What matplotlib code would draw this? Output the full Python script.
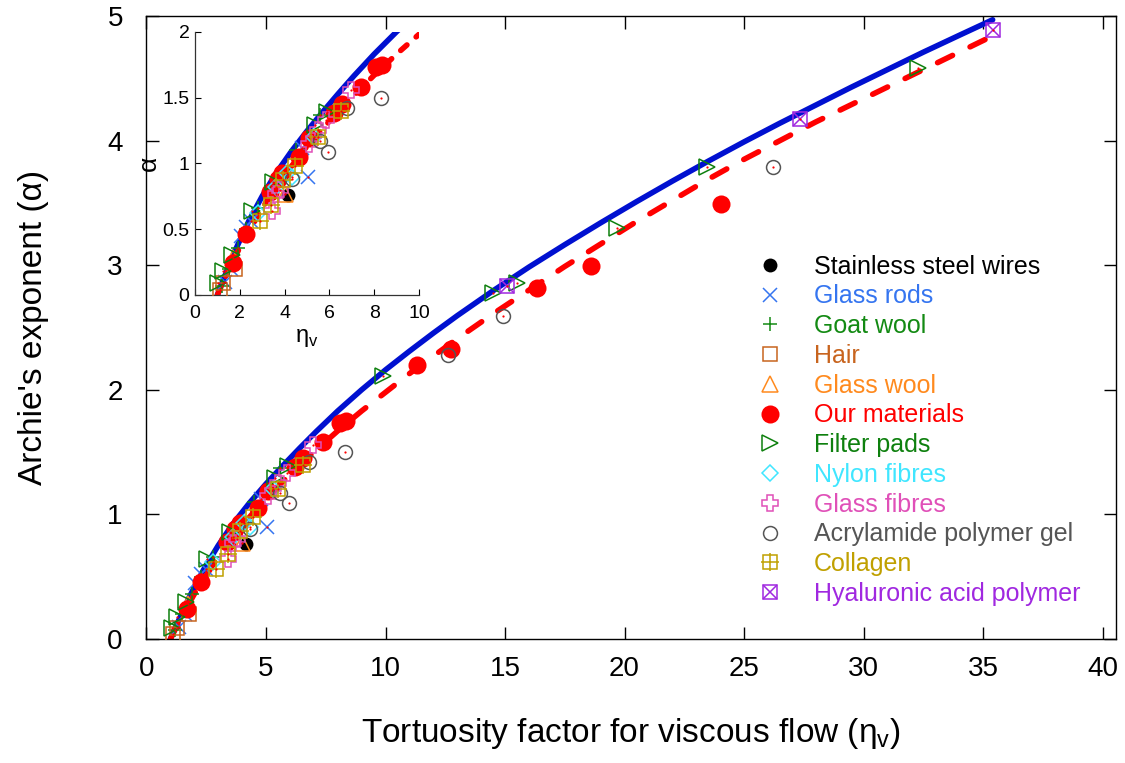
import matplotlib
matplotlib.use("Agg")
import matplotlib.pyplot as plt
from matplotlib.lines import Line2D
from matplotlib.legend_handler import HandlerTuple

plt.rcParams['font.family'] = ['Liberation Sans', 'DejaVu Sans']
plt.rcParams['mathtext.fontset'] = 'custom'
plt.rcParams['mathtext.rm'] = 'Liberation Sans'

# ---- model curves ----
blue_x = [1.0, 1.3, 1.8, 2.4, 3.0, 3.6, 4.3, 5.0, 5.7, 6.4, 7.1, 8.0, 9.0, 10.0, 11.0,
          12.0, 13.0, 14.5, 16.0, 17.5, 19.0, 20.5, 22.0, 23.5, 25.0, 26.5, 28.0, 29.5,
          31.0, 32.5, 34.0, 35.4]
blue_y = [0.0, 0.13, 0.34, 0.56, 0.75, 0.92, 1.09, 1.245, 1.39, 1.53, 1.665, 1.83, 2.00,
          2.16, 2.31, 2.455, 2.595, 2.795, 2.985, 3.165, 3.34, 3.51, 3.675, 3.835, 3.99,
          4.14, 4.285, 4.43, 4.57, 4.71, 4.845, 4.97]
red_x = [1.0, 1.5, 2.0, 3.0, 4.0, 5.0, 6.0, 7.0, 8.0, 9.0, 10.0, 11.0, 12.0, 13.0, 14.5,
         16.0, 17.5, 19.0, 20.5, 22.0, 23.5, 25.0, 26.5, 28.0, 29.5, 31.0, 32.5, 34.0, 35.5]
red_y = [0.0, 0.19, 0.36, 0.66, 0.91, 1.13, 1.32, 1.50, 1.67, 1.83, 1.98, 2.13, 2.27,
         2.41, 2.61, 2.80, 2.99, 3.17, 3.35, 3.52, 3.69, 3.85, 4.00, 4.15, 4.29, 4.43,
         4.57, 4.71, 4.85]

# ---- data series ----
steel_x = [4.15]
steel_y = [0.76]
rods_x = [1.35, 1.6, 2.05, 2.3, 2.5, 4.8, 5.05]
rods_y = [0.10, 0.20, 0.45, 0.52, 0.56, 1.12, 0.90]
goat_x = [1.2, 1.5, 1.9, 2.3, 2.8, 3.4, 4.5, 5.6]
goat_y = [0.07, 0.20, 0.36, 0.50, 0.66, 0.83, 1.10, 1.37]
hair_x = [1.1, 1.27, 1.78]
hair_y = [0.04, 0.09, 0.20]
gwool_x = [1.72, 4.0]
gwool_y = [0.28, 0.77]
ours_x = [1.7, 2.3, 3.35, 3.7, 3.9, 4.65, 5.1, 6.2, 6.55, 7.4, 8.1, 8.35, 11.3, 12.75,
          16.35, 18.6, 24.05]
ours_y = [0.24, 0.46, 0.78, 0.88, 0.93, 1.05, 1.19, 1.38, 1.45, 1.58, 1.73, 1.75, 2.20,
          2.33, 2.82, 2.99, 3.49]
pads_x = [1.05, 1.26, 1.64, 2.55, 3.48, 5.36, 5.9, 9.91, 14.51, 15.49, 19.67, 23.44, 32.29]
pads_y = [0.09, 0.18, 0.30, 0.64, 0.86, 1.29, 1.39, 2.11, 2.78, 2.86, 3.30, 3.79, 4.58]
nylon_x = [2.8, 3.6, 4.1, 4.35, 5.3]
nylon_y = [0.62, 0.82, 0.93, 0.90, 1.20]
gfib_x = [3.42, 3.63, 3.8, 5.1, 5.5, 5.87, 6.98]
gfib_y = [0.64, 0.77, 0.80, 1.15, 1.25, 1.33, 1.56]
acryl_x = [4.33, 5.6, 5.95, 6.8, 8.3, 12.63, 14.92, 26.23]
acryl_y = [0.88, 1.17, 1.09, 1.42, 1.50, 2.28, 2.59, 3.79]
coll_x = [2.9, 3.4, 3.92, 4.45, 5.5, 6.53]
coll_y = [0.56, 0.68, 0.87, 0.98, 1.20, 1.40]
hyal_x = [15.07, 27.34, 35.43]
hyal_y = [2.83, 4.17, 4.89]

main_xticks = [0, 5, 10, 15, 20, 25, 30, 35, 40]
main_yticks = [0, 1, 2, 3, 4, 5]
inset_xticks = [0, 2, 4, 6, 8, 10]
inset_yticks = [0, 0.5, 1, 1.5, 2]
inset_yticklabels = ['0', '0.5', '1', '1.5', '2']

labels = ['Stainless steel wires', 'Glass rods', 'Goat wool', 'Hair', 'Glass wool',
          'Our materials', 'Filter pads', 'Nylon fibres', 'Glass fibres',
          'Acrylamide polymer gel', 'Collagen', 'Hyaluronic acid polymer']
colors = ['#000000', '#3575f0', '#138a13', '#c8641e', '#ff8a1e', '#ff0000',
          '#0e800e', '#40e6ff', '#e050b8', '#555555', '#c0a000', '#a028e0']

C_BLUE = '#0010d0'


def open_style(c, m, ms, mew=1.1):
    return dict(linestyle='none', marker=m, ms=ms, mec=c, mfc='none', mew=mew)


styles = [
    dict(linestyle='none', marker='o', ms=10, mec=colors[0], mfc=colors[0], mew=0),
    open_style(colors[1], 'x', 10),
    open_style(colors[2], '+', 10),
    open_style(colors[3], 's', 10),
    open_style(colors[4], '^', 11),
    dict(linestyle='none', marker='o', ms=13, mec=colors[5], mfc=colors[5], mew=0),
    open_style(colors[6], '>', 11),
    open_style(colors[7], 'D', 8),
    open_style(colors[8], 'P', 11),
    open_style(colors[9], 'o', 10),
    open_style(colors[10], 's', 10),
    open_style(colors[11], 's', 10),
]
extra = {10: open_style(colors[10], '+', 13), 11: open_style(colors[11], 'x', 9.5)}

series = [(steel_x, steel_y), (rods_x, rods_y), (goat_x, goat_y), (hair_x, hair_y),
          (gwool_x, gwool_y), (ours_x, ours_y), (pads_x, pads_y), (nylon_x, nylon_y),
          (gfib_x, gfib_y), (acryl_x, acryl_y), (coll_x, coll_y), (hyal_x, hyal_y)]


def draw(ax, inset=False):
    ax.plot(blue_x, blue_y, color=C_BLUE, lw=4.0, solid_capstyle='round',
            solid_joinstyle='round', zorder=2)
    dashes = (1.5, 2.2) if inset else (3.0, 3.5)
    ax.plot(red_x, red_y, color='#ff0000', lw=4.0, dashes=dashes,
            dash_capstyle='round', zorder=2)
    for i, (xs, ys) in enumerate(series):
        ax.plot(xs, ys, zorder=3, **styles[i])
        if i in extra:
            ax.plot(xs, ys, zorder=3, **extra[i])
        if i not in (0, 5):
            ax.plot(xs, ys, linestyle='none', marker='o', ms=1.6, mfc='#ff0000',
                    mec='#ff0000', mew=0, zorder=4)


fig = plt.figure(figsize=(11.25, 7.63), dpi=100)
ax = fig.add_axes([0.1302, 0.1625, 0.8618, 0.8165])
draw(ax)
ax.set_xlim(0, 40.56)
ax.set_ylim(0, 5)
ax.set_xticks(main_xticks)
ax.set_yticks(main_yticks)
ax.tick_params(direction='in', length=9, width=1, top=True, right=True,
               labelsize=20, colors='black')
ax.tick_params(axis='x', pad=12)
ax.tick_params(axis='y', pad=17)
for s in ax.spines.values():
    s.set_linewidth(1.0)
ax.set_xlabel('Tortuosity factor for viscous flow (η$_\\mathregular{v}$)', fontsize=24,
              labelpad=25)
ax.set_ylabel("Archie's exponent (α)", fontsize=24, labelpad=42)

handles = []
for i in range(len(labels)):
    h = Line2D([], [], **styles[i])
    if i in extra:
        h = (h, Line2D([], [], **extra[i]))
    handles.append(h)
leg = ax.legend(handles, labels, loc='upper left', bbox_to_anchor=(0.630, 0.6172),
                frameon=False, fontsize=18, handlelength=1.0, handletextpad=1.26,
                labelspacing=0.23, borderpad=0, borderaxespad=0,
                handler_map={tuple: HandlerTuple(ndivide=1, pad=0)})
for t, c in zip(leg.get_texts(), colors):
    t.set_color(c)

# ---- inset ----
ins = fig.add_axes([0.1733, 0.6134, 0.1991, 0.345])
ins.patch.set_alpha(0)
draw(ins, inset=True)
ins.set_xlim(0, 10)
ins.set_ylim(0, 2)
ins.set_xticks(inset_xticks)
ins.set_yticks(inset_yticks)
ins.set_yticklabels(inset_yticklabels)
ins.spines['top'].set_visible(False)
ins.spines['right'].set_visible(False)
for s in ('left', 'bottom'):
    ins.spines[s].set_linewidth(0.9)
    ins.spines[s].set_color('#333333')
ins.tick_params(direction='in', length=4, width=0.8, labelsize=14)
ins.tick_params(axis='x', pad=7)
ins.tick_params(axis='y', pad=4)
ins.set_xlabel('η$_\\mathregular{v}$', fontsize=17, labelpad=4)
ins.set_ylabel('α', fontsize=19, labelpad=1)

fig.savefig('out.png', dpi=100)
